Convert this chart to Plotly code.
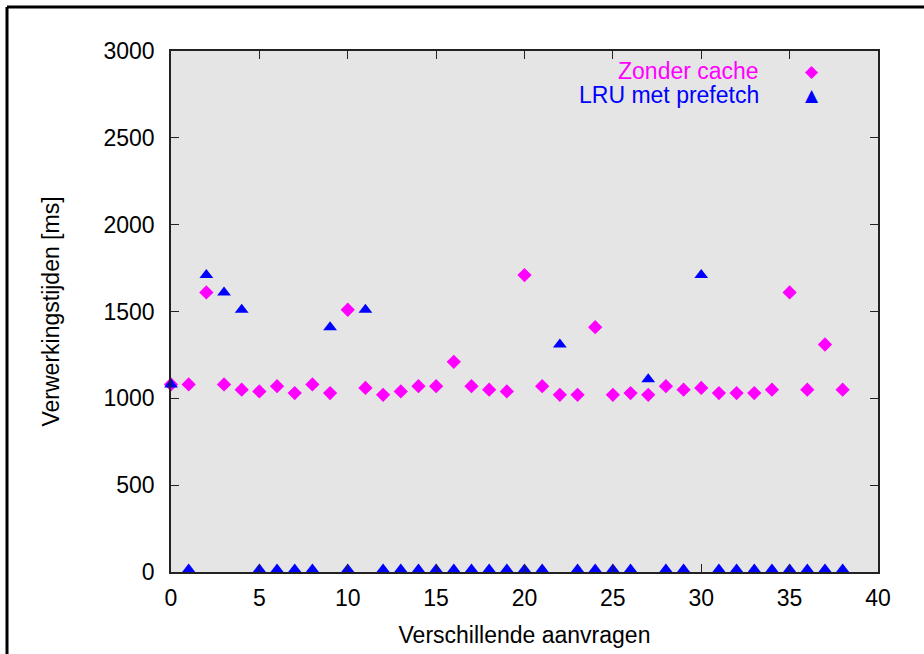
import plotly.graph_objects as go

# Data
requests = list(range(39))
zonder_cache = [1080, 1080, 1610, 1080, 1050, 1040, 1070, 1030, 1080, 1030,
                1510, 1060, 1020, 1040, 1070, 1070, 1210, 1070, 1050, 1040,
                1710, 1070, 1020, 1020, 1410, 1020, 1030, 1020, 1070, 1050,
                1060, 1030, 1030, 1030, 1050, 1610, 1050, 1310, 1050]
lru_prefetch = [1080, 15, 1710, 1610, 1510, 15, 15, 15, 15, 1410,
                15, 1510, 15, 15, 15, 15, 15, 15, 15, 15,
                15, 15, 1310, 15, 15, 15, 15, 1110, 15, 15,
                1710, 15, 15, 15, 15, 15, 15, 15, 15]
series_names = ["Zonder cache", "LRU met prefetch"]
x_ticks = [0, 5, 10, 15, 20, 25, 30, 35, 40]
y_ticks = [0, 500, 1000, 1500, 2000, 2500, 3000]

MAGENTA = "#ff00ff"
BLUE = "#0000ff"
FONT = "Liberation Sans, Arial, sans-serif"

fig = go.Figure()
fig.add_trace(go.Scatter(x=requests, y=zonder_cache, mode="markers", name=series_names[0],
                         marker=dict(symbol="diamond", size=11, color=MAGENTA),
                         cliponaxis=False, showlegend=False))
fig.add_trace(go.Scatter(x=requests, y=lru_prefetch, mode="markers", name=series_names[1],
                         marker=dict(symbol="triangle-up", size=12, color=BLUE),
                         cliponaxis=False, showlegend=False))

axis_common = dict(showgrid=False, zeroline=False, showline=True, linecolor="#222222",
                   linewidth=1.5, mirror="ticks", ticks="inside", ticklen=8,
                   tickcolor="#222222", tickwidth=1.2,
                   tickfont=dict(family=FONT, size=23, color="black"))

fig.update_xaxes(range=[0, 40], tickvals=x_ticks, ticktext=[str(v) for v in x_ticks],
                 ticklabelstandoff=5,
                 title=dict(text="Verschillende aanvragen", font=dict(family=FONT, size=23, color="black"), standoff=17),
                 **axis_common)
fig.update_yaxes(range=[0, 3000], tickvals=y_ticks, ticktext=[str(v) for v in y_ticks],
                 ticklabelstandoff=10,
                 title=dict(text="Verwerkingstijden [ms]", font=dict(family=FONT, size=23, color="black"), standoff=37),
                 **axis_common)

# Legend (gnuplot style: text right-aligned, symbol on the right)
legend_rows = [(series_names[0], MAGENTA, "◆", 1.0 - (71 - 51) / 521),
               (series_names[1], BLUE, "▲", 1.0 - (95 - 51) / 521)]
for name, col, glyph, yp in legend_rows:
    fig.add_annotation(x=(761 - 171) / 707, y=yp, xref="paper", yref="paper",
                       text=name, showarrow=False, xanchor="right", yanchor="middle",
                       font=dict(family=FONT, size=23, color=col))
    fig.add_annotation(x=(812 - 171) / 707, y=yp, xref="paper", yref="paper",
                       text=glyph, showarrow=False, xanchor="center", yanchor="middle",
                       font=dict(family="DejaVu Sans", size=17, color=col))

# Outer frame (top and left edges visible)
W, H, L, T = 707, 521, 171, 51
fx = (7 - L) / W
fy = 1 + (T - 7) / H
fig.add_shape(type="line", xref="paper", yref="paper", x0=fx, x1=(930 - L) / W, y0=fy, y1=fy,
              line=dict(color="black", width=3))
fig.add_shape(type="line", xref="paper", yref="paper", x0=fx, x1=fx, y0=fy, y1=-(660 - 572) / H,
              line=dict(color="black", width=3))

fig.update_layout(width=924, height=654, margin=dict(l=171, r=46, t=51, b=82, autoexpand=False),
                  paper_bgcolor="white", plot_bgcolor="#e5e5e5",
                  font=dict(family=FONT, color="black"))

fig.write_html("out.html", config={"displayModeBar": False},
               post_script="document.body.style.margin='0';document.body.style.overflow='hidden';")
